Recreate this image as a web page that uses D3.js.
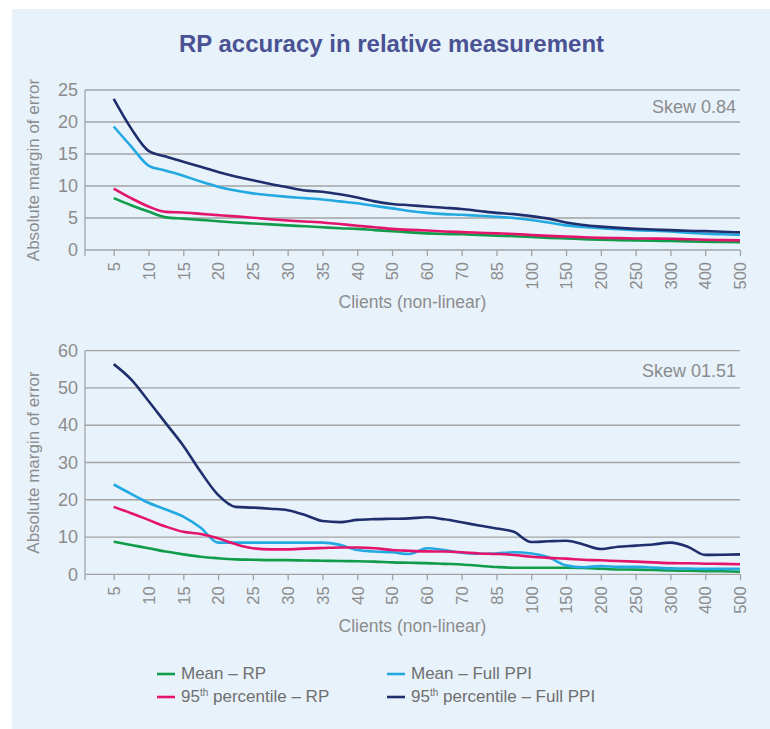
<!DOCTYPE html>
<html>
<head>
<meta charset="utf-8">
<script src="https://cdn.jsdelivr.net/npm/d3@7"></script>
<style>
body { margin: 0; background: #fff; }
svg { display: block; font-family: "Liberation Sans", Arial, sans-serif; }
</style>
</head>
<body>
<svg width="770" height="729"></svg>
<script>
// x categories (non-linear client counts)
const clients = ["5","10","15","20","25","30","35","40","50","60","70","85","100","150","200","250","300","400","500"];
// values are read every half category step: 5, (between), 10, (between), ...
const halfSteps = d3.range(0, clients.length - 0.5, 0.5);

const topTicks = [0, 5, 10, 15, 20, 25];
const bottomTicks = [0, 10, 20, 30, 40, 50, 60];

// Skew 0.84
const topMeanRP = [8.1,7.0,6.0,5.1,4.9,4.7,4.5,4.3,4.15,4.0,3.85,3.7,3.55,3.4,3.3,3.1,2.95,2.75,2.6,2.5,2.45,2.35,2.25,2.15,2.05,1.9,1.8,1.7,1.6,1.55,1.5,1.45,1.4,1.35,1.3,1.25,1.2];
const topMeanPPI = [19.3,16.2,13.2,12.4,11.6,10.7,9.9,9.3,8.85,8.55,8.3,8.1,7.9,7.6,7.3,6.9,6.5,6.1,5.8,5.6,5.5,5.35,5.2,5.0,4.7,4.3,3.85,3.6,3.4,3.25,3.1,3.0,2.9,2.7,2.55,2.45,2.35];
const top95RP = [9.6,8.1,6.8,5.95,5.85,5.65,5.45,5.25,5.05,4.8,4.6,4.45,4.3,4.05,3.8,3.55,3.3,3.15,3.05,2.9,2.8,2.7,2.6,2.5,2.35,2.2,2.1,2.0,1.9,1.85,1.8,1.78,1.75,1.68,1.6,1.55,1.5];
const top95PPI = [23.6,19.0,15.5,14.6,13.8,13.0,12.2,11.5,10.9,10.3,9.8,9.3,9.1,8.7,8.2,7.6,7.2,7.0,6.8,6.6,6.4,6.1,5.8,5.6,5.3,4.9,4.3,3.9,3.65,3.45,3.3,3.2,3.1,3.0,2.95,2.85,2.75];

// Skew 01.51
const botMeanRP = [8.75,7.85,7.0,6.1,5.35,4.7,4.3,4.0,3.9,3.8,3.8,3.7,3.65,3.55,3.5,3.4,3.2,3.1,3.0,2.8,2.65,2.3,1.95,1.75,1.75,1.75,1.75,1.7,1.5,1.3,1.25,1.15,1.0,0.95,0.85,0.8,0.7];
const botMeanPPI = [24.1,21.6,19.2,17.4,15.5,12.5,8.5,8.5,8.5,8.5,8.5,8.5,8.5,7.9,6.5,6.1,5.9,5.45,7.0,6.5,5.8,5.5,5.6,5.9,5.6,4.55,2.4,1.9,2.2,2.0,2.0,1.8,1.6,1.55,1.45,1.45,1.45];
const bot95RP = [18.1,16.4,14.6,12.8,11.4,10.8,9.65,8.1,7.0,6.7,6.7,6.9,7.05,7.2,7.2,7.0,6.5,6.3,6.15,6.1,5.9,5.6,5.45,5.2,4.7,4.4,4.2,3.9,3.75,3.55,3.4,3.2,3.0,2.95,2.85,2.8,2.7];
const bot95PPI = [56.4,52.3,46.5,40.5,34.5,27.5,21.3,18.1,17.9,17.6,17.2,15.9,14.3,14.0,14.6,14.8,14.9,15.0,15.3,14.75,13.95,13.1,12.3,11.4,8.65,8.85,9.0,8.0,6.8,7.4,7.7,8.0,8.5,7.4,5.2,5.25,5.35];

const seriesNames = ["Mean \u2013 RP", "Mean \u2013 Full PPI", "95th percentile \u2013 RP", "95th percentile \u2013 Full PPI"];
const colors = ["#109c48", "#22a9e2", "#e3146b", "#1f2e6d"];

const gridColor = "#a3a3a3";
const textColor = "#8c8c8c";

var svg = d3.select("svg");

svg.append("rect")
	.attr("x", 12).attr("y", 9)
	.attr("width", 770 - 12).attr("height", 729 - 9)
	.attr("fill", "#e8f2fb");

svg.append("text")
	.attr("x", 391.5).attr("y", 52)
	.attr("text-anchor", "middle")
	.style("font-size", "24px").style("font-weight", "bold")
	.style("fill", "#4a5294")
	.text("RP accuracy in relative measurement");

var left = 85, right = 740;

var xBand = d3.scalePoint().domain(clients).range([113.7, right]);
var xIdx = d3.scaleLinear().domain([0, clients.length - 1]).range([113.7, right]);

function drawPanel(yTop, yBottom, ticks, series, skewLabel, skewY){
	var y = d3.scaleLinear().domain([0, d3.max(ticks)]).range([yBottom, yTop]);
	var g = svg.append("g");

	// gridlines
	g.selectAll(".grid").data(ticks.filter(function(t){ return t > 0; }))
	.enter().append("line")
	.attr("x1", left).attr("x2", right)
	.attr("y1", function(d){ return y(d); })
	.attr("y2", function(d){ return y(d); })
	.style("stroke", gridColor).style("stroke-width", 1.3);

	// y axis
	var ya = g.append("g").attr("transform", "translate(" + left + ",0)")
		.call(d3.axisLeft(y).tickValues(ticks).tickSize(0).tickPadding(7));
	ya.select(".domain").remove();
	ya.selectAll("text").style("font-size", "18px").style("fill", textColor)
		.style("font-family", "Liberation Sans, Arial, sans-serif");
	g.append("line")
		.attr("x1", left).attr("x2", left)
		.attr("y1", y(d3.max(ticks))).attr("y2", yBottom)
		.style("stroke", gridColor).style("stroke-width", 1.3);

	// x axis
	var xa = g.append("g").attr("transform", "translate(0," + yBottom + ")")
		.call(d3.axisBottom(xBand).tickSize(6).tickSizeOuter(0));
	xa.select(".domain").remove();
	xa.selectAll(".tick line").style("stroke", gridColor).style("stroke-width", 1.3);
	xa.selectAll("text")
		.attr("transform", "rotate(-90)")
		.attr("text-anchor", "end")
		.attr("x", -12).attr("y", 0).attr("dy", "0.35em")
		.style("font-size", "16.5px").style("fill", textColor)
		.style("font-family", "Liberation Sans, Arial, sans-serif");
	g.append("line")
		.attr("x1", left).attr("x2", right)
		.attr("y1", yBottom).attr("y2", yBottom)
		.style("stroke", gridColor).style("stroke-width", 1.3);
	g.append("line")
		.attr("x1", left).attr("x2", left)
		.attr("y1", yBottom).attr("y2", yBottom + 6)
		.style("stroke", gridColor).style("stroke-width", 1.3);

	// axis titles
	g.append("text")
		.attr("transform", "translate(39," + ((yTop + yBottom) / 2) + ") rotate(-90)")
		.attr("text-anchor", "middle")
		.style("font-size", "17px").style("fill", textColor)
		.text("Absolute margin of error");
	g.append("text")
		.attr("x", (left + right) / 2).attr("y", yBottom + 58)
		.attr("text-anchor", "middle")
		.style("font-size", "17.5px").style("fill", textColor)
		.text("Clients (non-linear)");

	g.append("text")
		.attr("x", 736).attr("y", skewY)
		.attr("text-anchor", "end")
		.style("font-size", "18px").style("fill", textColor)
		.text(skewLabel);

	var line = d3.line()
		.x(function(d, i){ return xIdx(halfSteps[i]); })
		.y(function(d){ return y(d); })
		.curve(d3.curveMonotoneX);

	g.selectAll(".series").data(series)
	.enter().append("path")
	.attr("d", function(d){ return line(d); })
	.style("fill", "none")
	.style("stroke", function(d, i){ return colors[i]; })
	.style("stroke-width", 2.6)
	.style("stroke-linejoin", "round");
}

drawPanel(90, 250, topTicks, [topMeanRP, topMeanPPI, top95RP, top95PPI], "Skew 0.84", 113);
drawPanel(350.7, 574.3, bottomTicks, [botMeanRP, botMeanPPI, bot95RP, bot95PPI], "Skew 01.51", 377);

// legend
var legendPos = [[157, 679], [387, 679], [157, 702], [387, 702]];
var lg = svg.append("g");
seriesNames.forEach(function(name, i){
	var p = legendPos[i];
	lg.append("line")
		.attr("x1", p[0]).attr("x2", p[0] + 18)
		.attr("y1", p[1] - 5).attr("y2", p[1] - 5)
		.style("stroke", colors[i]).style("stroke-width", 2.6);
	var t = lg.append("text")
		.attr("x", p[0] + 24).attr("y", p[1])
		.style("font-size", "17px").style("fill", "#6f6f6f");
	if(name.indexOf("95th") == 0){
		t.append("tspan").text("95");
		t.append("tspan").attr("dy", -6).style("font-size", "10px").text("th");
		t.append("tspan").attr("dy", 6).text(name.slice(4));
	} else {
		t.text(name);
	}
});
</script>
</body>
</html>
